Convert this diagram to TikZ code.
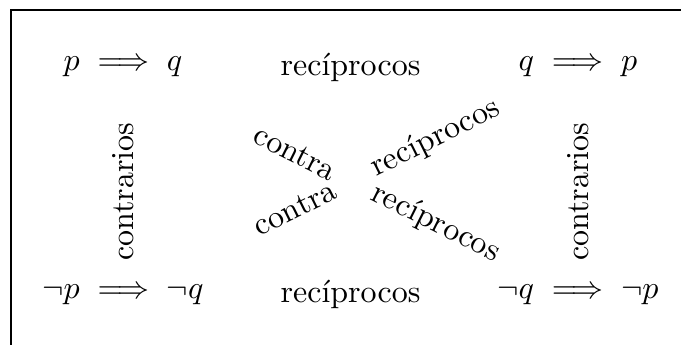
\documentclass[tikz,border=0pt]{standalone}
\usepackage{amsmath}
\usepackage{amssymb}
\usetikzlibrary{positioning}

\begin{document}
\begin{tikzpicture}[
    prop/.style={inner sep=3.33pt},
    rel/.style={sloped, inner sep=2pt},
    frame/.style={line width=0.6pt}
]

%% ── Page and frame ───────────────────────────────────────────────
\useasboundingbox (-1.352,-3.055) rectangle (6.132,0.736);
\draw[frame] (-1.231,-3.055) |- (6.132,0.626);

%% ── Propositions ─────────────────────────────────────────────────
\node[prop] (pq)   at (0,0)    {$p \implies q$};
\node[prop] (qp)   at (5,0)    {$q \implies p$};
\node[prop] (npnq) at (0,-2.5) {$\neg p \implies \neg q$};
\node[prop] (nqnp) at (5,-2.5) {$\neg q \implies \neg p$};

%% ── Relations ────────────────────────────────────────────────────
\path (pq)   -- node[rel] {recíprocos} (qp);
\path (npnq) -- node[rel] {recíprocos} (nqnp);
\path (npnq) -- node[rel, pos=0.44] {contrarios} (pq);
\path (nqnp) -- node[rel, pos=0.44] {contrarios} (qp);
\path (pq)   -- node[rel, pos=0.35] {contra}
                node[rel, pos=0.73] {recíprocos} (nqnp);
\path (npnq) -- node[rel, pos=0.35] {contra}
                node[rel, pos=0.73] {recíprocos} (qp);

\end{tikzpicture}
\end{document}
